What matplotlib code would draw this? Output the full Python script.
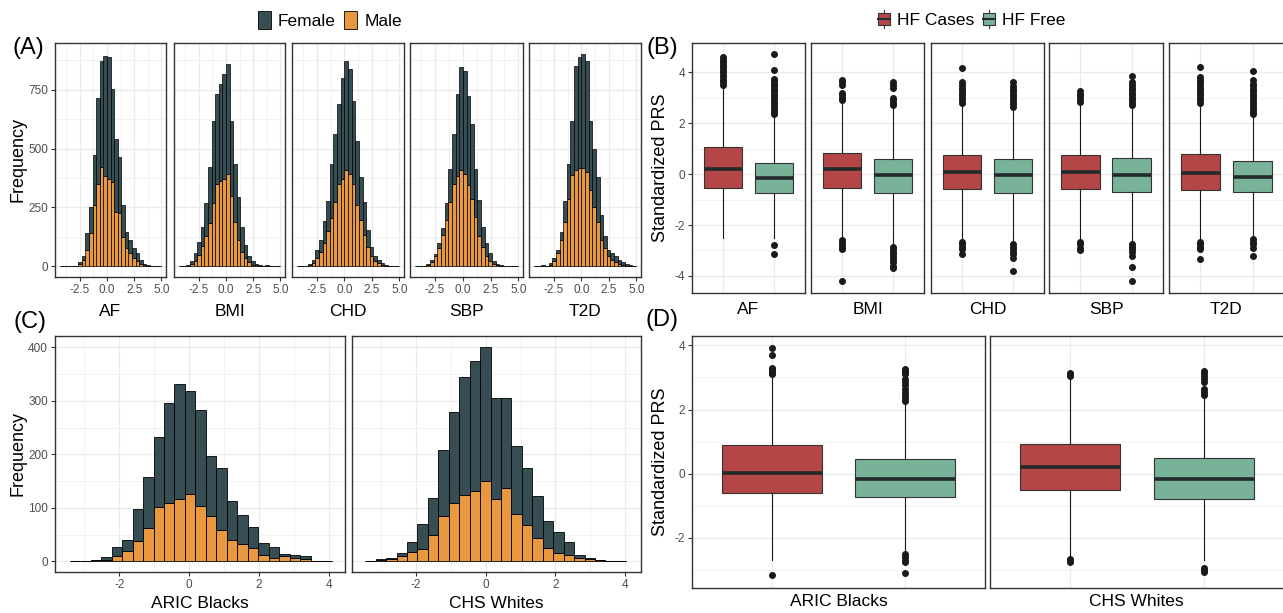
import matplotlib
matplotlib.use("Agg")
import matplotlib.pyplot as plt
import numpy as np
from matplotlib.patches import Patch, Rectangle
from matplotlib.lines import Line2D
from matplotlib.legend_handler import HandlerBase

plt.rcParams['font.family'] = ['Liberation Sans', 'DejaVu Sans']
plt.rcParams['axes.unicode_minus'] = False

# === Data: panel A (histograms of PRS by sex, 28 bins) ===
prs_names = ["AF", "BMI", "CHD", "SBP", "T2D"]
a_bin_start = -4.29
a_bin_width = 0.33
af_all = [0, 0, 0, 0, 0, 17, 42, 143, 253, 471, 714, 872, 893, 889, 752, 541, 464, 260, 148, 112, 77, 56, 28, 11, 4, 3, 2, 0]
af_male = [0, 0, 0, 0, 0, 12, 28, 70, 141, 260, 351, 421, 385, 372, 360, 232, 228, 125, 80, 55, 35, 22, 10, 4, 1, 0, 0, 0]
bmi_all = [0, 0, 8, 25, 55, 105, 169, 267, 422, 619, 731, 776, 815, 858, 619, 436, 295, 169, 91, 42, 21, 11, 6, 0, 4, 0, 0, 0]
bmi_male = [0, 0, 3, 10, 25, 50, 85, 130, 186, 267, 351, 362, 372, 394, 298, 190, 112, 63, 35, 17, 8, 4, 2, 0, 1, 0, 0, 0]
chd_all = [0, 0, 3, 11, 28, 70, 112, 193, 277, 436, 562, 689, 799, 872, 837, 703, 534, 380, 274, 155, 82, 42, 28, 14, 7, 3, 0, 0]
chd_male = [0, 0, 0, 5, 14, 35, 60, 100, 150, 205, 274, 348, 372, 410, 394, 348, 260, 195, 134, 84, 45, 25, 15, 8, 3, 1, 0, 0]
sbp_all = [0, 0, 0, 11, 28, 53, 98, 162, 267, 415, 562, 731, 846, 830, 724, 605, 415, 281, 169, 98, 56, 21, 11, 6, 3, 0, 0, 0]
sbp_male = [0, 0, 0, 6, 17, 42, 77, 134, 197, 274, 351, 383, 408, 394, 344, 288, 211, 127, 84, 42, 25, 11, 6, 3, 1, 0, 0, 0]
t2d_all = [0, 0, 4, 2, 14, 35, 70, 148, 278, 436, 619, 851, 889, 903, 872, 619, 500, 380, 218, 127, 70, 56, 42, 28, 17, 11, 6, 0]
t2d_male = [0, 0, 0, 0, 8, 25, 56, 112, 190, 288, 387, 408, 418, 418, 401, 323, 253, 190, 112, 77, 42, 28, 18, 11, 6, 3, 0, 0]

# === Data: panel B (boxplot summaries, HF cases vs HF free) ===
case_q1 = [-0.53, -0.53, -0.60, -0.57, -0.61]
case_med = [0.19, 0.19, 0.09, 0.09, 0.05]
case_q3 = [1.06, 0.83, 0.77, 0.77, 0.80]
case_lo = [-2.50, -2.50, -2.60, -2.60, -2.60]
case_hi = [3.45, 2.85, 2.75, 2.80, 2.75]
case_out = [
    [3.5, 3.6, 3.7, 3.8, 3.9, 4.0, 4.1, 4.2, 4.3, 4.4, 4.5, 4.6],
    [2.9, 3.0, 3.1, 3.2, 3.5, 3.6, 3.7, -2.6, -2.7, -2.8, -2.9, -2.95, -4.2],
    [2.8, 2.9, 3.0, 3.1, 3.2, 3.3, 3.4, 3.5, 3.6, 4.15, -2.65, -2.75, -2.85, -2.95, -3.15],
    [2.85, 2.95, 3.05, 3.15, 3.25, -2.65, -2.75, -2.9, -3.0],
    [2.8, 2.9, 3.0, 3.1, 3.2, 3.3, 3.4, 3.5, 3.6, 3.7, 3.8, 4.2, -2.65, -2.75, -2.85, -2.95, -3.35],
]
free_q1 = [-0.75, -0.75, -0.73, -0.69, -0.69]
free_med = [-0.17, -0.03, -0.03, -0.03, -0.10]
free_q3 = [0.44, 0.60, 0.60, 0.65, 0.52]
free_lo = [-2.50, -2.75, -2.70, -2.70, -2.50]
free_hi = [2.30, 2.62, 2.62, 2.62, 2.30]
free_out = [
    [2.35, 2.45, 2.55, 2.65, 2.75, 2.85, 2.95, 3.05, 3.15, 3.25, 3.35, 3.45, 3.55, 3.65, 3.75, 4.1, 4.7, -2.77, -3.15],
    [2.7, 2.8, 2.9, 3.0, 3.4, 3.5, 3.6, -2.85, -2.95, -3.05, -3.15, -3.25, -3.35, -3.45, -3.6, -3.7],
    [2.65, 2.75, 2.85, 2.95, 3.05, 3.15, 3.25, 3.35, 3.45, 3.6, -2.75, -2.85, -2.95, -3.05, -3.15, -3.3, -3.8],
    [2.7, 2.8, 2.9, 3.0, 3.1, 3.2, 3.3, 3.4, 3.5, 3.6, 3.85, -2.75, -2.85, -2.95, -3.05, -3.2, -3.65, -4.2],
    [2.35, 2.45, 2.55, 2.65, 2.75, 2.85, 2.95, 3.05, 3.15, 3.25, 3.35, 3.45, 3.55, 3.7, 4.05, -2.55, -2.65, -2.75, -2.9, -3.2],
]

# === Data: panel C (histograms by cohort, 25 bins) ===
cohorts = ["ARIC Blacks", "CHS Whites"]
c_bin_start = [-3.42, -3.46]
c_bin_width = 0.30
aric_all = [1, 1, 3, 8, 26, 39, 97, 158, 232, 296, 332, 318, 282, 196, 175, 112, 87, 65, 35, 27, 13, 11, 9, 1, 1]
aric_male = [0, 0, 3, 3, 10, 20, 38, 62, 101, 109, 116, 125, 103, 84, 58, 40, 33, 24, 12, 7, 9, 7, 5, 0, 0]
chs_all = [1, 4, 6, 15, 36, 70, 119, 208, 279, 344, 374, 400, 305, 305, 215, 174, 122, 75, 55, 36, 11, 7, 3, 0, 0]
chs_male = [0, 3, 5, 10, 17, 23, 49, 84, 109, 123, 131, 150, 116, 137, 88, 68, 43, 25, 15, 11, 7, 5, 2, 0, 0]

# === Data: panel D (boxplots by cohort) ===
d_case_q1 = [-0.59, -0.51]
d_case_med = [0.03, 0.22]
d_case_q3 = [0.89, 0.93]
d_case_lo = [-2.70, -2.62]
d_case_hi = [3.05, 3.00]
d_case_out = [[3.1, 3.15, 3.2, 3.25, 3.3, 3.7, 3.93, -3.17],
              [3.05, 3.1, 3.15, -2.65, -2.7, -2.75]]
d_free_q1 = [-0.73, -0.78]
d_free_med = [-0.15, -0.18]
d_free_q3 = [0.47, 0.49]
d_free_lo = [-2.45, -2.70]
d_free_hi = [2.20, 2.40]
d_free_out = [[2.25, 2.35, 2.45, 2.55, 2.65, 2.75, 2.85, 2.95, 3.1, 3.15, 3.2, 3.25, -2.5, -2.6, -2.7, -2.75, -3.08],
              [2.45, 2.55, 2.65, 2.85, 2.95, 3.05, 3.15, 3.2, -2.95, -3.0, -3.05]]

# === Colours ===
female_col = '#374D54'
male_col = '#E8983E'
case_col = '#B44648'
free_col = '#78B298'

W, H = 1283, 613
fig = plt.figure(figsize=(W / 100, H / 100), dpi=100)


def add_ax(x0, x1, y0, y1):
    return fig.add_axes([x0 / W, 1 - y1 / H, (x1 - x0) / W, (y1 - y0) / H])


def style(ax, show_y=True):
    for s in ax.spines.values():
        s.set_color('#333333')
        s.set_linewidth(1.0)
    ax.grid(which='major', color='#EBEBEB', lw=1.0)
    ax.grid(which='minor', color='#F0F0F0', lw=0.6)
    ax.set_axisbelow(True)
    ax.tick_params(which='major', length=3, width=0.8, color='#333333',
                   labelsize=8.5, labelcolor='#4D4D4D', pad=2)
    ax.tick_params(which='minor', length=0)
    if not show_y:
        ax.tick_params(axis='y', length=0, labelleft=False)


def label(x, y, s, **kw):
    fig.text(x / W, 1 - y / H, s, ha='center', va='center', **kw)


# === Panel A ===
a_x = [(55, 166), (174, 285), (292, 404), (410, 523), (529, 641)]
a_all = [af_all, bmi_all, chd_all, sbp_all, t2d_all]
a_male = [af_male, bmi_male, chd_male, sbp_male, t2d_male]
for i, name in enumerate(prs_names):
    ax = add_ax(a_x[i][0], a_x[i][1], 43, 277)
    tot = np.array(a_all[i])
    male = np.array(a_male[i])
    centers = a_bin_start + a_bin_width * (np.arange(len(tot)) + 0.5)
    ax.bar(centers, male, width=a_bin_width, color=male_col, edgecolor='black', lw=0.5)
    ax.bar(centers, tot - male, bottom=male, width=a_bin_width, color=female_col,
           edgecolor='black', lw=0.5)
    ax.set_xlim(-4.76, 5.42)
    ax.set_ylim(-45, 948)
    ax.set_xticks([-2.5, 0, 2.5, 5.0])
    ax.set_xticklabels(["-2.5", "0.0", "2.5", "5.0"])
    ax.set_xticks([-3.75, -1.25, 1.25, 3.75], minor=True)
    ax.set_yticks([0, 250, 500, 750])
    ax.set_yticks([125, 375, 625, 875], minor=True)
    style(ax, show_y=(i == 0))
    label((a_x[i][0] + a_x[i][1]) / 2, 312, name, fontsize=12.5)

label(18, 160, "Frequency", rotation=90, fontsize=13)
label(28, 48, "(A)", fontsize=17)

# === Panel B ===
b_x = [(692, 805), (811, 924), (931, 1044), (1049, 1163), (1169, 1284)]
box_kw = dict(positions=[1, 2], widths=0.75, patch_artist=True, showcaps=False,
              boxprops=dict(edgecolor='#333333', lw=0.8),
              whiskerprops=dict(color='#1a1a1a', lw=0.8),
              medianprops=dict(color='#222a2a', lw=2.6, solid_capstyle='butt'),
              flierprops=dict(marker='o', markerfacecolor='#1a1a1a', markeredgecolor='#1a1a1a',
                              markersize=4))


def draw_boxes(ax, s1, s2):
    b = ax.bxp([s1, s2], **box_kw)
    b['boxes'][0].set_facecolor(case_col)
    b['boxes'][1].set_facecolor(free_col)
    ax.set_xlim(0.4, 2.6)
    ax.set_xticks([1, 2])
    ax.tick_params(axis='x', length=0, labelbottom=False)


for i, name in enumerate(prs_names):
    ax = add_ax(b_x[i][0], b_x[i][1], 43, 293)
    s1 = dict(med=case_med[i], q1=case_q1[i], q3=case_q3[i], whislo=case_lo[i],
              whishi=case_hi[i], fliers=case_out[i])
    s2 = dict(med=free_med[i], q1=free_q1[i], q3=free_q3[i], whislo=free_lo[i],
              whishi=free_hi[i], fliers=free_out[i])
    draw_boxes(ax, s1, s2)
    ax.set_ylim(-4.67, 5.15)
    ax.set_yticks([-4, -2, 0, 2, 4])
    ax.set_yticks([-3, -1, 1, 3], minor=True)
    style(ax, show_y=(i == 0))
    ax.tick_params(axis='x', length=0)
    label((b_x[i][0] + min(b_x[i][1], 1283)) / 2, 310, name, fontsize=12.5)

label(660, 168, "Standardized PRS", rotation=90, fontsize=13)
label(662, 48, "(B)", fontsize=17)

# === Panel C ===
c_x = [(55, 345), (352, 641)]
c_all = [aric_all, chs_all]
c_male = [aric_male, chs_male]
for i, name in enumerate(cohorts):
    ax = add_ax(c_x[i][0], c_x[i][1], 336, 572)
    tot = np.array(c_all[i])
    male = np.array(c_male[i])
    centers = c_bin_start[i] + c_bin_width * (np.arange(len(tot)) + 0.5)
    ax.bar(centers, male, width=c_bin_width, color=male_col, edgecolor='black', lw=0.6)
    ax.bar(centers, tot - male, bottom=male, width=c_bin_width, color=female_col,
           edgecolor='black', lw=0.6)
    ax.set_xlim(-3.84, 4.46)
    ax.set_ylim(-20, 421)
    ax.set_xticks([-2, 0, 2, 4])
    ax.set_xticks([-3, -1, 1, 3], minor=True)
    ax.set_yticks([0, 100, 200, 300, 400])
    ax.set_yticks([50, 150, 250, 350], minor=True)
    style(ax, show_y=(i == 0))
    label((c_x[i][0] + c_x[i][1]) / 2, 604, name, fontsize=12.5)

label(18, 453, "Frequency", rotation=90, fontsize=13)
label(30, 322, "(C)", fontsize=17)

# === Panel D ===
d_x = [(692, 985), (990, 1284)]
for i, name in enumerate(cohorts):
    ax = add_ax(d_x[i][0], d_x[i][1], 336, 588)
    s1 = dict(med=d_case_med[i], q1=d_case_q1[i], q3=d_case_q3[i], whislo=d_case_lo[i],
              whishi=d_case_hi[i], fliers=d_case_out[i])
    s2 = dict(med=d_free_med[i], q1=d_free_q1[i], q3=d_free_q3[i], whislo=d_free_lo[i],
              whishi=d_free_hi[i], fliers=d_free_out[i])
    draw_boxes(ax, s1, s2)
    ax.set_ylim(-3.56, 4.29)
    ax.set_yticks([-2, 0, 2, 4])
    ax.set_yticks([-3, -1, 1, 3], minor=True)
    style(ax, show_y=(i == 0))
    ax.tick_params(axis='x', length=0)
    label((d_x[i][0] + min(d_x[i][1], 1283)) / 2, 602, name, fontsize=12.5)

label(660, 462, "Standardized PRS", rotation=90, fontsize=13)
label(662, 320, "(D)", fontsize=17)


# === Legends ===
class BoxGlyph(HandlerBase):
    def create_artists(self, legend, orig_handle, xdescent, ydescent, width, height,
                       fontsize, trans):
        cx = width / 2 - xdescent
        y0 = -ydescent
        whisk = Line2D([cx, cx], [y0 - 0.15 * height, y0 + 1.15 * height], color='#333333',
                       lw=0.8, transform=trans)
        rect = Rectangle((-xdescent, y0 + 0.1 * height), width, 0.8 * height,
                         facecolor=orig_handle.get_facecolor(), edgecolor='#333333', lw=0.8,
                         transform=trans)
        med = Line2D([-xdescent, width - xdescent], [y0 + 0.5 * height] * 2, color='#222a2a',
                     lw=1.5, transform=trans)
        return [whisk, rect, med]


sex_handles = [Patch(facecolor=female_col, edgecolor='black', lw=0.6),
               Patch(facecolor=male_col, edgecolor='black', lw=0.6)]
fig.legend(sex_handles, ["Female", "Male"], loc='center', bbox_to_anchor=(330 / W, 1 - 20 / H),
           ncol=2, frameon=False, fontsize=12.5, handlelength=0.75, handleheight=1.3,
           columnspacing=0.5, handletextpad=0.4)

hf_handles = [Patch(facecolor=case_col), Patch(facecolor=free_col)]
fig.legend(hf_handles, ["HF Cases", "HF Free"], loc='center', bbox_to_anchor=(972 / W, 1 - 20 / H),
           ncol=2, frameon=False, fontsize=12.5, handlelength=0.7, handleheight=0.9,
           columnspacing=0.5, handletextpad=0.4,
           handler_map={Patch: BoxGlyph()})

fig.savefig("out.png", dpi=100, facecolor='white')
